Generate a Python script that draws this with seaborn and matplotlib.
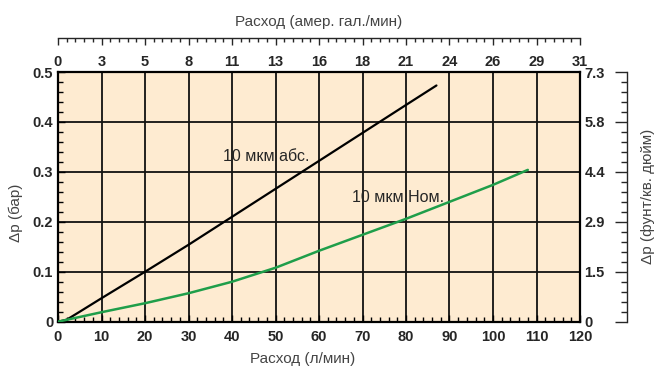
import numpy as np
import pandas as pd
import matplotlib
matplotlib.use("Agg")
import matplotlib.pyplot as plt
from matplotlib.ticker import MultipleLocator
import seaborn as sns

# flow, l/min  ->  pressure drop, bar
flow_abs = [0, 2, 5, 10, 20, 30, 40, 50, 60, 70, 80, 87]
dp_abs = [0, 0.004, 0.02, 0.047, 0.1, 0.154, 0.21, 0.266, 0.322, 0.378, 0.434, 0.473]
flow_nom = [0, 10, 20, 30, 40, 50, 60, 70, 80, 90, 100, 108]
dp_nom = [0, 0.019, 0.037, 0.057, 0.080, 0.108, 0.142, 0.174, 0.206, 0.240, 0.274, 0.304]

x_ticks = [0, 10, 20, 30, 40, 50, 60, 70, 80, 90, 100, 110, 120]
gpm_labels = ["0", "3", "5", "8", "11", "13", "16", "18", "21", "24", "26", "29", "31"]
y_ticks = [0, 0.1, 0.2, 0.3, 0.4, 0.5]
y_labels = ["0", "0.1", "0.2", "0.3", "0.4", "0.5"]
psi_labels = ["0", "1.5", "2.9", "4.4", "5.8", "7.3"]

sns.set_style("white")
plt.rcParams["font.family"] = ["Liberation Sans", "DejaVu Sans"]

fig = plt.figure(figsize=(6.54, 3.67), dpi=100)
ax = fig.add_axes([58/654, 1-321.7/367, 522/654, 249.7/367])
ax.set_facecolor("#feebd1")

df_abs = pd.DataFrame({"flow": flow_abs, "dp": dp_abs})
df_nom = pd.DataFrame({"flow": flow_nom, "dp": dp_nom})
sns.lineplot(data=df_abs, x="flow", y="dp", ax=ax, color="black", lw=1.6, sort=False, estimator=None, zorder=3)
sns.lineplot(data=df_nom, x="flow", y="dp", ax=ax, color="#1f9e4a", lw=1.8, sort=False, estimator=None, zorder=3)

ax.set_xlim(0, 120)
ax.set_ylim(0, 0.5)
ax.set_xticks(x_ticks)
ax.set_yticks(y_ticks)
ax.xaxis.set_minor_locator(MultipleLocator(2))
ax.yaxis.set_minor_locator(MultipleLocator(0.02))
ax.tick_params(which="both", direction="in", color="black", width=1.0)
ax.tick_params(which="major", length=5)
ax.tick_params(which="minor", length=3.5)
ax.tick_params(axis="x", pad=6)
ax.tick_params(axis="y", pad=3.5)
ax.set_xticklabels([str(t) for t in x_ticks], fontweight="bold", fontsize=10.5)
ax.set_yticklabels(y_labels, fontweight="bold", fontsize=10.5)
ax.grid(True, which="major", color="#111111", lw=1.3)
for s in ax.spines.values():
    s.set_color("black")
    s.set_linewidth(1.6)

ax.set_xlabel("Расход (л/мин)", fontsize=11, color="#444444")
ax.xaxis.set_label_coords(0.469, -0.122)
ax.set_ylabel("Δp (бар)", fontsize=11, color="#444444")
ax.yaxis.set_label_coords(-0.068, 0.435)

ax.text(37.9, 0.331, "10 мкм абс.", fontsize=11.5, va="center", ha="left")
ax.text(67.5, 0.249, "10 мкм Ном.", fontsize=11.5, va="center", ha="left")

# top axis: US gal/min
ax_top = ax.twiny()
ax_top.set_xlim(ax.get_xlim())
ax_top.set_xticks(x_ticks)
ax_top.xaxis.set_minor_locator(MultipleLocator(2))
for k in ["left", "right", "bottom"]:
    ax_top.spines[k].set_visible(False)
ax_top.spines["top"].set_position(("axes", 1.136))
ax_top.spines["top"].set_linewidth(1.0)
ax_top.tick_params(axis="x", which="both", direction="in", top=True, bottom=False,
                   labeltop=True, labelbottom=False, pad=-22, width=1.0)
ax_top.tick_params(which="major", length=5)
ax_top.tick_params(which="minor", length=3)
ax_top.set_xticklabels(gpm_labels, fontweight="bold", fontsize=10.5)
for t in ax_top.xaxis.get_major_ticks():
    t.label2.set_fontweight("bold")
ax_top.set_xlabel("Расход (амер. гал./мин)", fontsize=11, color="#444444", labelpad=9)
ax_top.grid(False)

# right axis: psi
ax_r = ax.twinx()
ax_r.set_ylim(ax.get_ylim())
ax_r.set_yticks(y_ticks)
ax_r.yaxis.set_minor_locator(MultipleLocator(0.02))
for k in ["left", "top", "bottom"]:
    ax_r.spines[k].set_visible(False)
ax_r.spines["right"].set_position(("axes", 1.09))
ax_r.spines["right"].set_linewidth(1.0)
ax_r.tick_params(axis="y", which="both", direction="in", right=True, left=False,
                 labelright=True, labelleft=False, pad=-30.5, width=1.0)
ax_r.tick_params(which="major", length=9)
ax_r.tick_params(which="minor", length=4.5)
ax_r.set_yticklabels(psi_labels, fontweight="bold", fontsize=10.5)
for t in ax_r.yaxis.get_major_ticks():
    t.label2.set_fontweight("bold")
ax_r.set_ylabel("Δp (фунт/кв. дюйм)", fontsize=11, color="#444444", labelpad=10)
ax_r.grid(False)

fig.savefig("out.png", dpi=100)
